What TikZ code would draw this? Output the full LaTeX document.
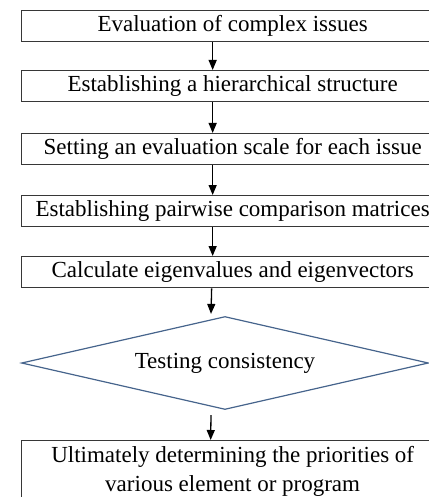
\documentclass[tikz,border=0pt]{standalone}
\usepackage{fontspec}
\setmainfont{Liberation Serif}
\usetikzlibrary{shapes.geometric,arrows.meta}
\definecolor{boxgray}{RGB}{55,55,55}
\definecolor{diamondblue}{RGB}{70,100,140}
\begin{document}
\begin{tikzpicture}[x=1pt, y=1pt, >={Triangle[length=10pt,width=8pt]},
    stepbox/.style={draw=boxgray, line width=1.3pt, minimum width=422pt,
      minimum height=31pt, inner sep=0pt, anchor=north west,
      font=\fontsize{23}{29}\selectfont},
    testbox/.style={diamond, aspect=4.38, draw=diamondblue, line width=1.2pt,
      minimum width=407pt, minimum height=93pt, inner sep=0pt,
      font=\fontsize{23}{29}\selectfont},
    flow/.style={->, line width=1.3pt}]
    \useasboundingbox (0,0) rectangle (428,-497);

    % Steps of the procedure, top to bottom
    \node[stepbox] (issues) at (21,-10) {Evaluation of complex issues};
    \node[stepbox] (hierarchy) at (21,-70) {Establishing a hierarchical structure};
    \node[stepbox] (scale) at (21,-133) {Setting an evaluation scale for each issue};
    \node[stepbox] (matrices) at (21,-195) {Establishing pairwise comparison matrices};
    \node[stepbox] (eigen) at (21,-256) {Calculate eigenvalues and eigenvectors};

    % Consistency check
    \node[testbox] (consistency) at (225,-363) {Testing consistency};

    % Final step
    \node[stepbox, minimum height=62pt, align=center] (priorities) at (21,-440)
      {Ultimately determining the priorities of\\various element or program};

    % Arrows between the steps
    \draw[flow] ([xshift=-20pt]issues.south) -- ([xshift=-20pt]hierarchy.north);
    \draw[flow] ([xshift=-20pt]hierarchy.south) -- ([xshift=-20pt]scale.north);
    \draw[flow] ([xshift=-20pt]scale.south) -- ([xshift=-20pt]matrices.north);
    \draw[flow] ([xshift=-20pt]matrices.south) -- ([xshift=-20pt]eigen.north);
    \draw[flow] ([xshift=-21pt]eigen.south) -- ([xshift=-14pt,yshift=2pt]consistency.north);
    \draw[flow] ([xshift=-14pt,yshift=-5pt]consistency.south) -- ([xshift=-22pt]priorities.north);
\end{tikzpicture}
\end{document}
